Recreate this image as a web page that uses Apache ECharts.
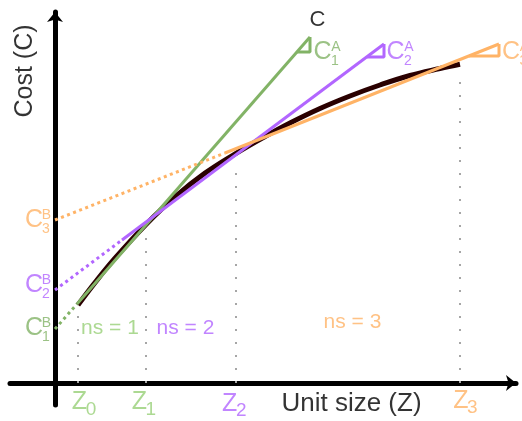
<!DOCTYPE html>
<html><head><meta charset="utf-8">
<script src="https://cdn.jsdelivr.net/npm/echarts@6/dist/echarts.min.js"></script>
<style>html,body{margin:0;padding:0;background:#fff}#c{width:522px;height:421px}</style>
</head><body><div id="c"></div>
<script>
// ---------- data (schematic units) ----------
const curveX = [2.3, 4.0, 6.0, 9.1, 12.0, 15.0, 18.1, 21.0, 23.5, 26.5, 29.5, 32.5, 35.5, 38.5, 40.5];
const curveY = [7.8, 10.04, 12.48, 15.86, 18.62, 20.99, 22.97, 24.65, 26.0, 27.45, 28.7, 29.8, 30.75, 31.45, 31.87];

const zValues   = [2.3, 9.1, 18.1, 40.5];
const zGuideTop = [7.0, 15.0, 21.3, 31.0];
const zSubs     = ['0', '1', '2', '3'];
const zLabelAt  = [[2.45, -1.95], [8.43, -1.95], [17.47, -2.1], [40.58, -1.8]];

// tangent lines ns = 1, 2, 3 : dotted part from intercept C^B, solid part up to C^A
const tangentDotted = [[[0, 5.4], [2.2, 7.9]], [[0, 9.3], [6.7, 14.3]], [[0, 16.3], [17.0, 23.0]]];
const tangentSolid  = [[[2.2, 7.9], [25.5, 34.6]], [[6.7, 14.3], [32.9, 33.9]], [[17.0, 23.0], [44.4, 33.9]]];
const slopeTri      = [[[24.2, 33.1], [25.5, 33.1], [25.5, 34.6]],
                       [[31.2, 32.6], [32.9, 32.6], [32.9, 33.9]],
                       [[41.4, 32.7], [44.4, 32.7], [44.4, 33.9]]];

const cALabelAt = [[26.75, 33.1], [34.05, 33.1], [45.6, 33.1]];
const cBLabelAt = [[-2.1, 5.45], [-2.1, 9.75], [-2.1, 16.3]];
const cSubs = ['1', '2', '3'];
const nsLabels = ['ns = 1', 'ns = 2', 'ns = 3'];
const nsLabelAt = [[5.5, 5.5], [13.05, 5.5], [29.75, 6.03]];
const curveName = 'C';
const curveLabelAt = [26.25, 36.3];
const xTitle = 'Unit size (Z)', xTitleAt = [29.65, -2.13];
const yTitle = 'Cost (C)', yTitleAt = [-3.0, 31.2];

// ---------- styles ----------
const FONT = '"Liberation Sans", Arial, Helvetica, sans-serif';
const lineCol = ['#82B366', '#B266FF', '#FFB366'];
const textCol = ['#82B366', '#B266FF', '#FFB366'];
const lightCol = ['#97D077', '#B266FF', '#FFB366'];
const zCol = ['#97D077', '#97D077', '#B266FF', '#FFB366'];

function textSeries(items, color, size, opts) {
  opts = opts || {};
  return {
    type: 'scatter', symbolSize: 0, silent: true, clip: false, z: 20, animation: false,
    itemStyle: { color: 'rgba(0,0,0,0)' },
    data: items.map(it => ({
      value: [it[1], it[2]],
      label: {
        show: true, formatter: it[0], position: 'inside',
        color: it[3] || color, fontSize: size, fontFamily: FONT,
        rotate: opts.rotate || 0, offset: opts.offset || [0, 0]
      }
    }))
  };
}
function lineSeries(pts, color, width, type, z) {
  return {
    type: 'line', data: pts, showSymbol: false, symbol: 'none', silent: true, clip: false,
    animation: false, z: z || 5,
    lineStyle: { color: color, width: width, type: type || 'solid', cap: 'butt' }
  };
}

const series = [];
// Z guide lines
zValues.forEach((z, i) => series.push(lineSeries([[z, 0], [z, zGuideTop[i]]], '#A6A6A6', 2, [2, 11], 2)));
// cost curve
series.push({
  type: 'line', data: curveX.map((x, i) => [x, curveY[i]]), showSymbol: false,
  smooth: 0.4,
  silent: true, clip: false, animation: false, z: 4,
  lineStyle: { color: '#2A0000', width: 5, cap: 'butt' }
});
// tangents
for (let i = 0; i < 3; i++) {
  series.push(lineSeries(tangentDotted[i], lineCol[i], 3, [3, 3.5], 5));
  series.push(lineSeries(tangentSolid[i], lineCol[i], 3, 'solid', 5));
  series.push(lineSeries(slopeTri[i], lineCol[i], 3, 'solid', 5));
}
// texts
series.push(textSeries([[curveName, curveLabelAt[0], curveLabelAt[1]]], '#000', 22));
series.push(textSeries([[xTitle, xTitleAt[0], xTitleAt[1]]], '#000', 26));
series.push(textSeries([[yTitle, yTitleAt[0], yTitleAt[1]]], '#000', 25, { rotate: 90 }));
series.push(textSeries(nsLabels.map((t, i) => [t, nsLabelAt[i][0], nsLabelAt[i][1], lightCol[i]]), '#000', 21));
series.push(textSeries(zValues.map((z, i) => ['Z', zLabelAt[i][0], zLabelAt[i][1], zCol[i]]), '#000', 25));
series.push(textSeries(zValues.map((z, i) => [zSubs[i], zLabelAt[i][0], zLabelAt[i][1], zCol[i]]), '#000', 19, { offset: [11.5, 7] }));
series.push(textSeries(cALabelAt.map((p, i) => ['C', p[0], p[1], textCol[i]]), '#000', 25));
series.push(textSeries(cALabelAt.map((p, i) => ['A', p[0], p[1], textCol[i]]), '#000', 14, { offset: [13.5, -5] }));
series.push(textSeries(cALabelAt.map((p, i) => [cSubs[i], p[0], p[1], textCol[i]]), '#000', 14, { offset: [12.5, 9] }));
series.push(textSeries(cBLabelAt.map((p, i) => ['C', p[0], p[1], textCol[i]]), '#000', 25));
series.push(textSeries(cBLabelAt.map((p, i) => ['B', p[0], p[1], textCol[i]]), '#000', 14, { offset: [12.5, -5] }));
series.push(textSeries(cBLabelAt.map((p, i) => [cSubs[i], p[0], p[1], textCol[i]]), '#000', 14, { offset: [12, 9] }));

const axisCommon = {
  type: 'value', splitLine: { show: false }, axisTick: { show: false }, axisLabel: { show: false },
  axisLine: { show: true, onZero: true, symbol: ['none', 'arrow'], symbolSize: [12, 10],
              lineStyle: { color: '#000', width: 5 } }
};
const chart = echarts.init(document.getElementById('c'), null, { renderer: 'canvas' });
chart.setOption({
  animation: false,
  backgroundColor: '#fff',
  grid: { left: 10, right: 6, top: 12, bottom: 16, containLabel: false },
  xAxis: Object.assign({}, axisCommon, { min: -4.5, max: 46.1 }),
  yAxis: Object.assign({}, axisCommon, { min: -2.2, max: 37.1 }),
  series: series
});
</script></body></html>
